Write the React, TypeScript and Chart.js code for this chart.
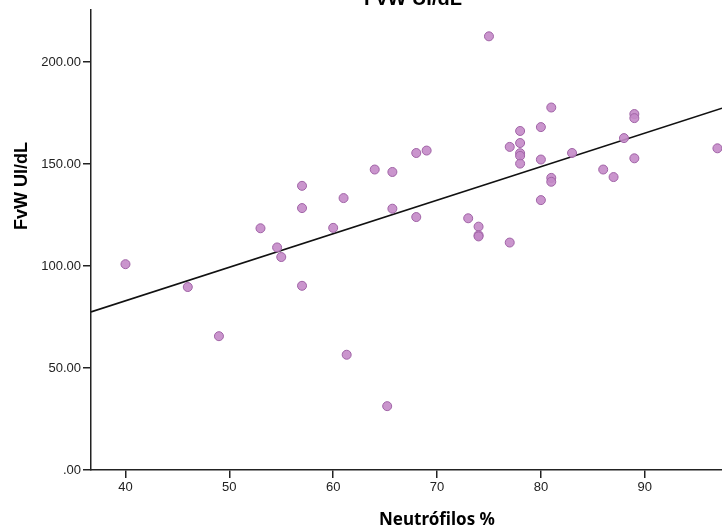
import React, { useEffect, useRef } from "react";
import { Chart, registerables } from "chart.js";

Chart.register(...registerables);

const TITLE = "FvW UI/dL";
const X_TITLE = "Neutrófilos %";
const Y_TITLE = "FvW UI/dL";

const neutrofilos = [
  40, 46, 49, 53, 54.6, 55, 57, 57, 57, 60, 61, 61.3, 64, 65.2, 65.7, 65.7, 68, 68, 69, 73,
  74, 74, 74, 75, 77, 77, 78, 78, 78, 78, 78, 80, 80, 80, 81, 81, 81, 83, 86, 87, 88, 89, 89, 89, 97,
];
const fvw = [
  100.9, 89.7, 65.6, 118.5, 109.1, 104.4, 139.3, 128.4, 90.3, 118.7, 133.3, 56.5, 147.3, 31.3, 146.1,
  128.1, 155.4, 124.0, 156.6, 123.4, 119.3, 115.1, 114.5, 212.6, 158.4, 111.5, 166.2, 160.3, 155.3,
  154.0, 150.2, 168.1, 152.2, 132.3, 177.7, 143.2, 141.3, 155.4, 147.3, 143.6, 162.7, 174.5, 172.5,
  152.8, 157.7,
];

const X_MIN = 36.68;
const X_MAX = 97.44;
const Y_MIN = 0;
const Y_MAX = 225.6;
const X_TICK_STEP = 10;
const Y_TICK_STEP = 50;

// Fit line
const FIT_INTERCEPT = 17.2;
const FIT_SLOPE = 1.644;

const textPlugin = {
  id: "texts",
  afterDraw(chart: any) {
    const ctx = chart.ctx;
    ctx.save();
    ctx.fillStyle = "#000";
    ctx.textAlign = "center";
    ctx.textBaseline = "alphabetic";
    ctx.font = "bold 20px 'Liberation Sans', Arial, sans-serif";
    ctx.fillText(TITLE, 413, 5);

    ctx.font = "bold 17px 'Noto Sans', sans-serif";
    ctx.textBaseline = "middle";
    ctx.fillText(X_TITLE, 437, 520);

    ctx.translate(22, 186);
    ctx.rotate(-Math.PI / 2);
    ctx.font = "bold 18px 'Liberation Sans', Arial, sans-serif";
    ctx.fillText(Y_TITLE, 0, 0);
    ctx.restore();
  },
};

export default function App() {
  const ref = useRef<HTMLCanvasElement | null>(null);
  useEffect(() => {
    if (!ref.current) return;
    const points = neutrofilos.map((x, i) => ({ x, y: fvw[i] }));
    const fit = [X_MIN, X_MAX].map((x) => ({ x, y: FIT_INTERCEPT + FIT_SLOPE * x }));
    const chart = new Chart(ref.current, {
      type: "scatter",
      data: {
        datasets: [
          {
            type: "line",
            data: fit,
            borderColor: "#111",
            borderWidth: 1.6,
            pointRadius: 0,
            fill: false,
            order: 2,
          } as any,
          {
            data: points,
            backgroundColor: "rgba(196,138,200,0.9)",
            borderColor: "#a063a6",
            borderWidth: 1,
            pointRadius: 4.5,
            order: 1,
          },
        ],
      },
      options: {
        responsive: false,
        animation: false,
        devicePixelRatio: 1,
        layout: { autoPadding: false, padding: { top: 8, right: 0, left: 0, bottom: 0 } },
        plugins: { legend: { display: false }, tooltip: { enabled: false }, title: { display: false } },
        scales: {
          x: {
            type: "linear",
            min: X_MIN,
            max: X_MAX,
            afterFit: (s: any) => {
              s.height = 61;
            },
            grid: {
              drawOnChartArea: false,
              drawTicks: true,
              tickLength: 8,
              color: "#222",
              lineWidth: 1.5,
            },
            border: { display: true, color: "#222", width: 1.5 },
            ticks: {
              stepSize: X_TICK_STEP,
              includeBounds: false,
              color: "#222",
              padding: 2,
              maxRotation: 0,
              font: { family: "'Liberation Sans', Arial, sans-serif", size: 13 },
            },
          },
          y: {
            type: "linear",
            min: Y_MIN,
            max: Y_MAX,
            afterFit: (s: any) => {
              s.width = 91;
            },
            grid: {
              drawOnChartArea: false,
              drawTicks: true,
              tickLength: 8,
              color: "#222",
              lineWidth: 1.5,
            },
            border: { display: true, color: "#222", width: 1.5 },
            ticks: {
              stepSize: Y_TICK_STEP,
              includeBounds: false,
              color: "#222",
              padding: 2,
              font: { family: "'Liberation Sans', Arial, sans-serif", size: 13 },
              callback: (v: any) => (Number(v) === 0 ? ".00" : Number(v).toFixed(2)),
            },
          },
        },
      },
      plugins: [textPlugin],
    });
    return () => chart.destroy();
  }, []);
  return (
    <div style={{ position: "absolute", left: 0, top: 0, width: 722, height: 531, background: "#fff" }}>
      <canvas ref={ref} width={722} height={531} />
    </div>
  );
}
